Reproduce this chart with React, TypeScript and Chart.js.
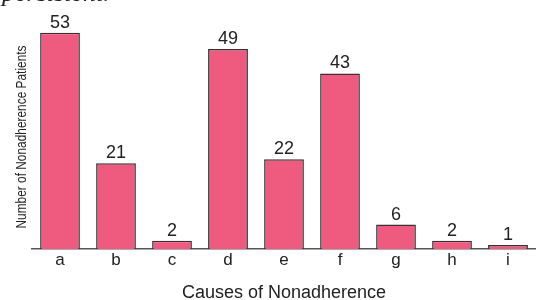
import React, { useEffect, useRef } from "react";
import { Chart, registerables } from "chart.js";

Chart.register(...registerables);

const categories = ["a", "b", "c", "d", "e", "f", "g", "h", "i"];
const patients = [53, 21, 2, 49, 22, 43, 6, 2, 1];
const xTitle = "Causes of Nonadherence";
const yTitle = "Number of Nonadherence Patients";
const clippedCaption = "persistent.";

const valueLabels = {
  id: "valueLabels",
  afterDatasetsDraw(chart: any) {
    const ctx = chart.ctx;
    const meta = chart.getDatasetMeta(0);
    ctx.save();
    ctx.font = "18px 'Liberation Sans', Arial, sans-serif";
    ctx.fillStyle = "#222";
    ctx.textAlign = "center";
    ctx.textBaseline = "alphabetic";
    meta.data.forEach((bar: any, i: number) => {
      ctx.fillText(String(patients[i]), bar.x, bar.y - 5);
    });
    ctx.restore();
  },
};

const yTitlePlugin = {
  id: "yTitlePlugin",
  afterDraw(chart: any) {
    const ctx = chart.ctx;
    ctx.save();
    ctx.font = "15px 'Liberation Sans', Arial, sans-serif";
    ctx.fillStyle = "#222";
    const w = ctx.measureText(yTitle).width;
    const target = 183;
    ctx.translate(22, 137);
    ctx.rotate(-Math.PI / 2);
    ctx.scale(target / w, 1);
    ctx.textAlign = "center";
    ctx.textBaseline = "middle";
    ctx.fillText(yTitle, 0, 0);
    ctx.restore();
  },
};

export default function App() {
  const ref = useRef<HTMLCanvasElement>(null);
  useEffect(() => {
    document.body.style.margin = "0";
    const chart = new Chart(ref.current!, {
      type: "bar",
      data: {
        labels: categories,
        datasets: [
          {
            data: patients,
            backgroundColor: "#EF5B7F",
            borderColor: "#3a3034",
            borderWidth: 1.5,
            borderSkipped: "bottom",
            categoryPercentage: 1,
            barPercentage: 0.71,
          },
        ],
      },
      options: {
        animation: false,
        responsive: false,
        maintainAspectRatio: false,
        layout: { padding: { left: 0, right: 0, top: 0, bottom: 0 } },
        plugins: { legend: { display: false }, tooltip: { enabled: false } },
        scales: {
          x: {
            grid: { display: false, drawTicks: false },
            border: { display: true, color: "#555", width: 1.5 },
            ticks: {
              color: "#222",
              padding: 3,
              font: { family: "'Liberation Sans', Arial, sans-serif", size: 17, lineHeight: 1 },
            },
            title: {
              display: true,
              text: xTitle,
              color: "#222",
              padding: { top: 12, bottom: 0 },
              font: { family: "'Liberation Sans', Arial, sans-serif", size: 18, lineHeight: 0.8 },
            },
            afterFit: (s: any) => {
              s.height = 51;
            },
          },
          y: {
            min: 0,
            max: 61,
            display: true,
            grid: { display: false, drawTicks: false },
            border: { display: false },
            ticks: { display: false },
            afterFit: (s: any) => {
              s.width = 32;
            },
          },
        },
      },
      plugins: [valueLabels, yTitlePlugin],
    });
    return () => chart.destroy();
  }, []);
  return (
    <div style={{ position: "relative", width: 536, height: 300, overflow: "hidden" }}>
      <div
        style={{
          position: "absolute",
          left: 2,
          top: -20,
          fontFamily: "'Liberation Serif', serif",
          fontStyle: "italic",
          fontSize: 26,
          color: "#222",
          whiteSpace: "nowrap",
          lineHeight: "26px",
        }}
      >
        {clippedCaption}
      </div>
      <canvas ref={ref} width={536} height={300} style={{ display: "block" }} />
    </div>
  );
}
